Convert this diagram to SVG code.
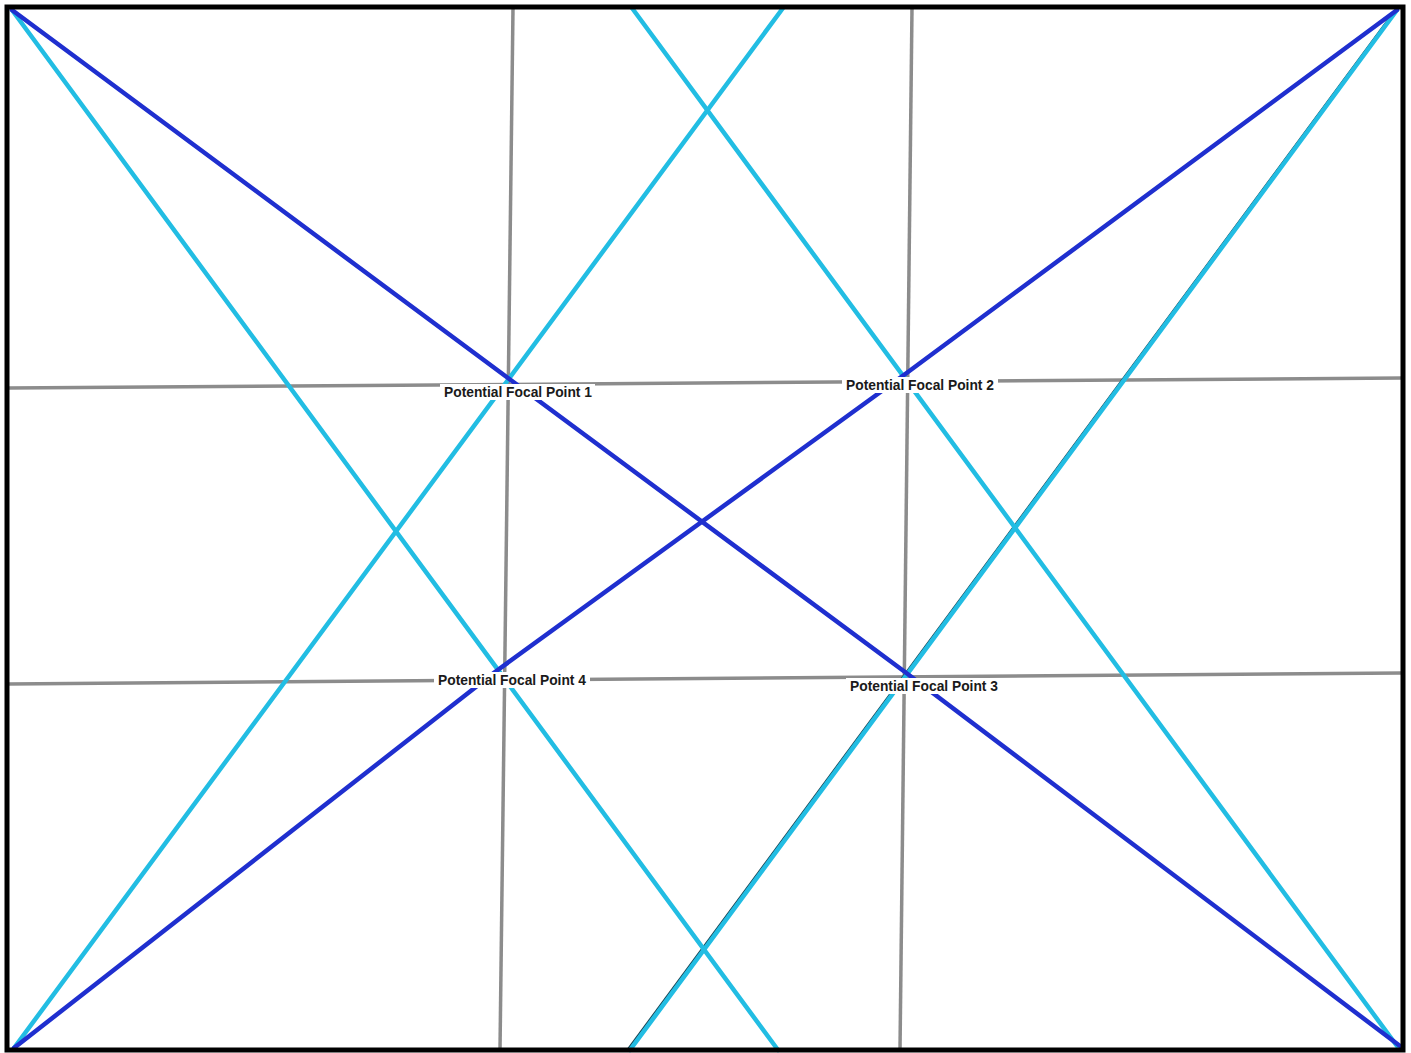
<svg xmlns="http://www.w3.org/2000/svg" width="1411" height="1053" viewBox="0 0 1411 1053">
<style>
.grid{stroke:#8c8c8c;stroke-width:3.5;fill:none}
.cyan{stroke:#22bde3;stroke-width:4.5;fill:none;stroke-linecap:round}
.blue{stroke:#1f2fcf;stroke-width:4.5;fill:none;stroke-linecap:round;stroke-linejoin:round}
.edge{stroke:#16404f;stroke-width:1.5;fill:none}
.lbl rect{fill:#ffffff}
.lbl text{font-family:"Liberation Sans",Arial,sans-serif;font-weight:bold;font-size:13.8px;fill:#1a1a1a;text-anchor:middle}
</style>
<rect x="0" y="0" width="1411" height="1053" fill="#ffffff"/>
<g id="connectors">
<line class="grid" x1="513" y1="8" x2="500" y2="1050"/>
<line class="grid" x1="912" y1="8" x2="900" y2="1050"/>
<line class="grid" x1="8" y1="388" x2="1402" y2="378"/>
<line class="grid" x1="8" y1="684" x2="1402" y2="673"/>
<line class="edge" x1="627" y1="1050" x2="1395" y2="10"/>
<line class="cyan" x1="12" y1="10" x2="778" y2="1050"/>
<line class="cyan" x1="632" y1="8" x2="1397" y2="1046"/>
<line class="cyan" x1="14" y1="1048" x2="783" y2="8"/>
<line class="cyan" x1="630" y1="1050" x2="1397" y2="10"/>
<polyline class="blue" points="12,10 508,378 905,672 1400,1046"/>
<polyline class="blue" points="14,1048 495,672 908,372 1397,10"/>
</g>
<rect x="7" y="7" width="1396" height="1043" fill="none" stroke="#000000" stroke-width="5"/>
<g id="focal1" class="lbl"><rect x="440" y="384" width="155" height="16"/><text x="518" y="397">Potential Focal Point 1</text></g>
<g id="focal2" class="lbl"><rect x="842" y="377" width="156" height="16"/><text x="920" y="390">Potential Focal Point 2</text></g>
<g id="focal3" class="lbl"><rect x="846" y="678" width="156" height="16"/><text x="924" y="691">Potential Focal Point 3</text></g>
<g id="focal4" class="lbl"><rect x="434" y="672" width="156" height="16"/><text x="512" y="685">Potential Focal Point 4</text></g>
</svg>
